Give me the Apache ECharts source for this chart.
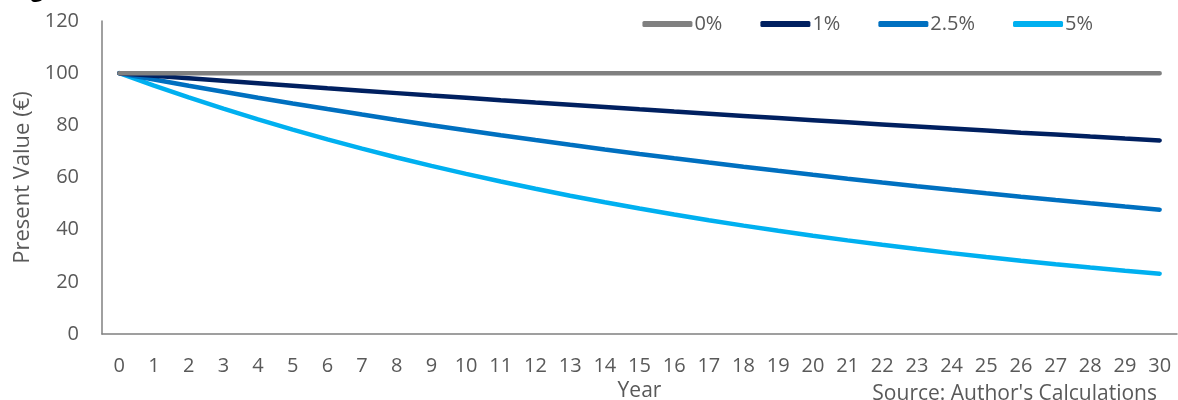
<!DOCTYPE html>
<html>
<head>
<meta charset="utf-8">
<script src="https://cdn.jsdelivr.net/npm/echarts@6/dist/echarts.min.js"></script>
<style>html,body{margin:0;padding:0;background:#fff;}#c{width:1178px;height:400px;}</style>
</head>
<body>
<div id="c"></div>
<script>
const years = ['0','1','2','3','4','5','6','7','8','9','10','11','12','13','14','15','16','17','18','19','20','21','22','23','24','25','26','27','28','29','30'];
const seriesNames = ['0%','1%','2.5%','5%'];
const rate0 = [100,100,100,100,100,100,100,100,100,100,100,100,100,100,100,100,100,100,100,100,100,100,100,100,100,100,100,100,100,100,100];
const rate1 = [100,99.01,98.03,97.06,96.10,95.15,94.20,93.27,92.35,91.43,90.53,89.63,88.74,87.87,87.00,86.13,85.28,84.44,83.60,82.77,81.95,81.14,80.34,79.54,78.76,77.98,77.20,76.44,75.68,74.93,74.19];
const rate25 = [100,97.56,95.18,92.86,90.60,88.38,86.23,84.13,82.07,80.07,78.12,76.21,74.36,72.54,70.77,69.05,67.36,65.72,64.12,62.55,61.03,59.54,58.09,56.67,55.29,53.94,52.62,51.34,50.09,48.86,47.67];
const rate5 = [100,95.24,90.70,86.38,82.27,78.35,74.62,71.07,67.68,64.46,61.39,58.47,55.68,53.03,50.51,48.10,45.81,43.63,41.55,39.57,37.69,35.89,34.18,32.56,31.01,29.53,28.12,26.78,25.51,24.29,23.14];
const colors = ['#808080','#002060','#0070C0','#00B0F0'];
const FONT = 'Open Sans';
const TXT = '#595959';

const chart = echarts.init(document.getElementById('c'));
const dataSets = [rate0, rate1, rate25, rate5];
chart.setOption({
  animation: false,
  textStyle: {fontFamily: FONT},
  grid: {left: 102, right: 1, top: 21, bottom: 66, containLabel: false, outerBoundsMode: 'none'},
  legend: {
    data: seriesNames,
    right: 80, top: 9,
    itemGap: 38, itemWidth: 50, itemHeight: 6,
    icon: 'roundRect',
    textStyle: {color: TXT, fontSize: 20, fontFamily: FONT, padding: [0,0,0,-3]}
  },
  xAxis: {
    type: 'category', data: years, boundaryGap: true,
    name: 'Year', nameLocation: 'middle', nameGap: 38,
    nameTextStyle: {color: TXT, fontSize: 21, fontFamily: FONT},
    axisLine: {lineStyle: {color: '#808080', width: 1.5}},
    axisTick: {show: false},
    axisLabel: {interval: 0, color: TXT, fontSize: 20, margin: 22, fontFamily: FONT}
  },
  yAxis: {
    type: 'value', min: 0, max: 120, interval: 20,
    name: 'Present Value (€)', nameLocation: 'middle', nameGap: 66,
    nameTextStyle: {color: TXT, fontSize: 22, fontFamily: FONT},
    axisLine: {show: true, lineStyle: {color: '#808080', width: 1.5}},
    axisTick: {show: false},
    splitLine: {show: false},
    axisLabel: {color: TXT, fontSize: 20, margin: 23, fontFamily: FONT}
  },
  graphic: [
    {type: 'text', left: 12, top: -20, style: {text: 'Figure', fontSize: 22, fontWeight: 'bold', fill: '#000', fontFamily: FONT}},
    {type: 'text', right: 21, top: 384, style: {text: "Source: Author's Calculations", fontSize: 21, fill: TXT, fontFamily: FONT}}
  ],
  series: seriesNames.map((n, i) => ({
    name: n, type: 'line', data: dataSets[i],
    showSymbol: false, symbol: 'none', smooth: false,
    lineStyle: {color: colors[i], width: 4.5, cap: 'round'},
    itemStyle: {color: colors[i]},
    z: 10 - i
  }))
});
</script>
</body>
</html>
